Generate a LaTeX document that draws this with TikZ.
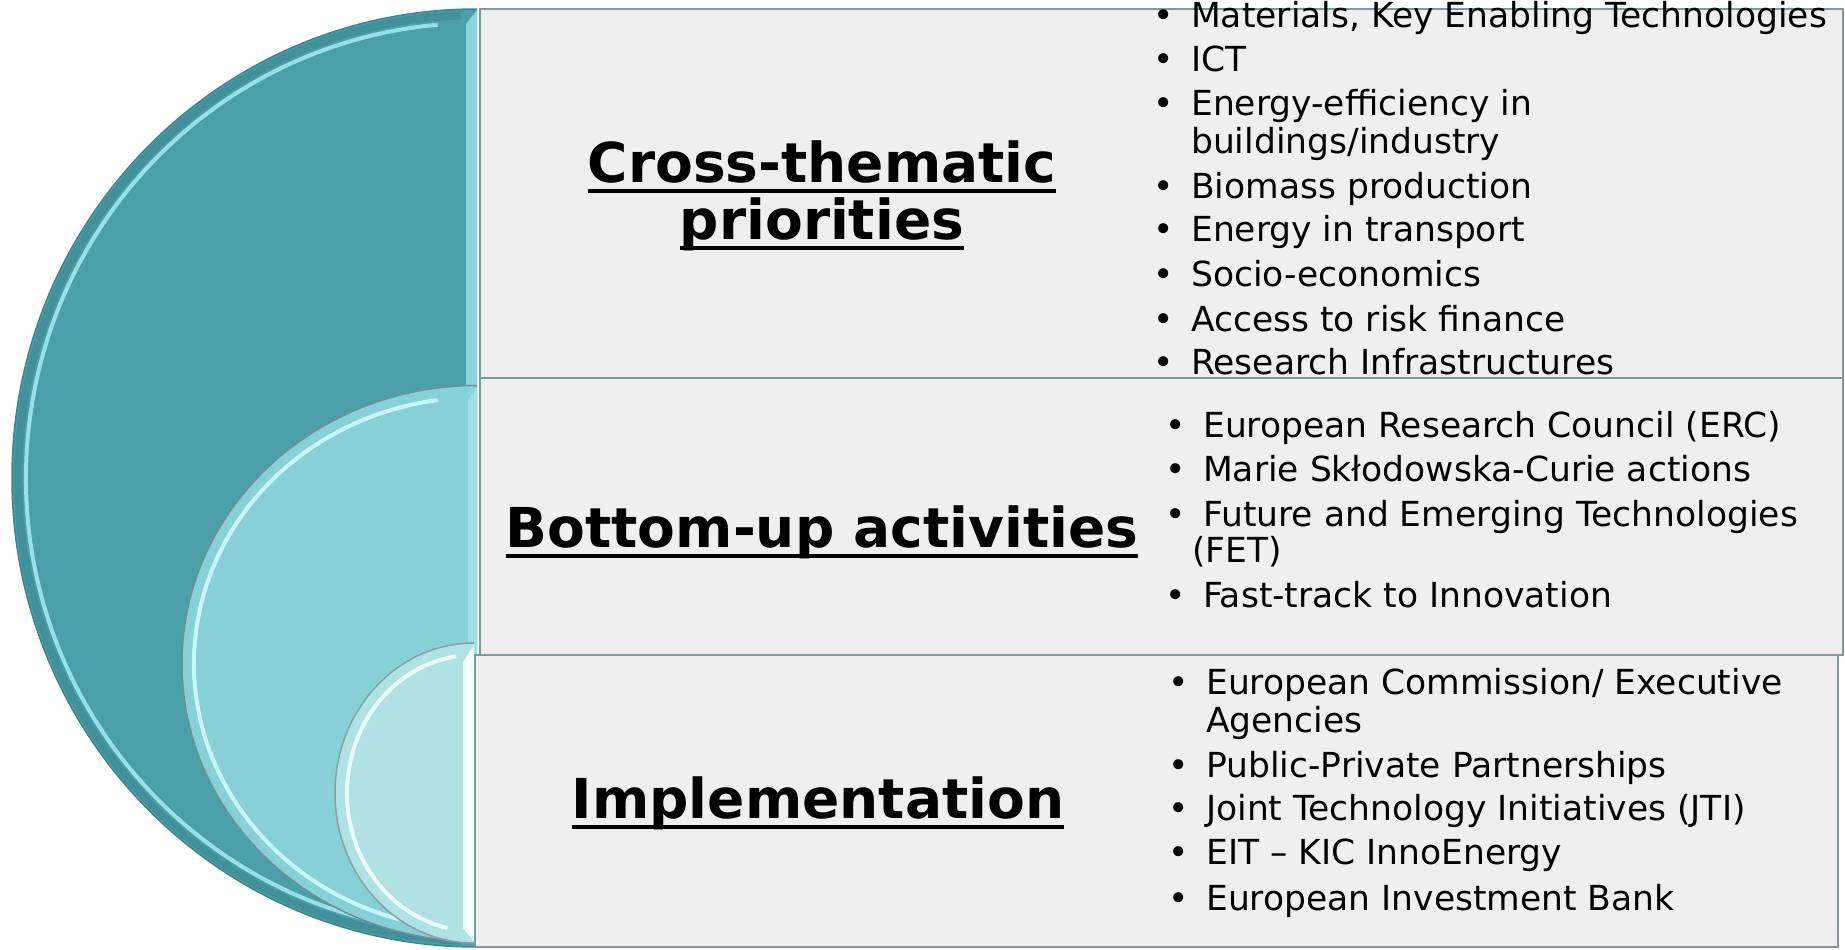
\documentclass[tikz,border=0pt]{standalone}
\usepackage{fontspec}
\setmainfont{DejaVu Sans}
\definecolor{bigF}{HTML}{4A9FA9}
\definecolor{bigD}{HTML}{3A868F}
\definecolor{bigH}{HTML}{A6ECF2}
\definecolor{midF}{HTML}{87D0D8}
\definecolor{midD}{HTML}{6E8F93}
\definecolor{midH}{HTML}{D2FAFE}
\definecolor{smlF}{HTML}{B0E1E5}
\definecolor{smlD}{HTML}{8A9FA1}
\definecolor{smlH}{HTML}{F2FFFF}
\definecolor{panelF}{HTML}{EFEFEF}
\definecolor{panelB}{HTML}{7F9A9E}
\newcommand\ulx[1]{\leavevmode\setbox0=\hbox{#1}\rlap{\copy0}\rule[-11pt]{\wd0}{4.5pt}}
\begin{document}
\begin{tikzpicture}[x=1pt,y=-1pt,
  panel/.style={draw=panelB, fill=panelF, line width=1.3pt, inner sep=0pt, outer sep=0pt, anchor=north west},
  ttl/.style={anchor=base, inner sep=0pt, font=\fontsize{55}{58}\bfseries\selectfont},
  itm/.style={anchor=base west, inner sep=0pt, font=\fontsize{34.5}{37}\selectfont}]
\useasboundingbox (0,0) rectangle (1845,950);
% big half ellipse
\fill[bigF] (477,947) arc[start angle=90,end angle=270,x radius=465,y radius=469] -- cycle;
\draw[bigD!60!bigF, line width=8pt] ([shift={(92:459 and 463)}]477,478) arc[start angle=92,end angle=268,x radius=459,y radius=463];
\draw[bigH, line width=4pt, opacity=.85] ([shift={(97:451 and 455)}]477,478) arc[start angle=97,end angle=265,x radius=451,y radius=455];
\fill[bigH!70!bigF] (466,24) -- (477,10) -- (477,385) -- (466,385) -- cycle;
\draw[bigD, line width=1.5pt] (477,947) arc[start angle=90,end angle=270,x radius=465,y radius=469];
% middle half ellipse
\fill[midF] (477,941.5) arc[start angle=90,end angle=270,x radius=295,y radius=278] -- cycle;
\draw[midH, line width=4pt, opacity=.9] ([shift={(100:283 and 266)}]477,663.5) arc[start angle=100,end angle=262,x radius=283,y radius=266];
\fill[midH!30!midF] (468,400) -- (477,387) -- (477,935) -- (468,925) -- cycle;
\draw[midD, line width=1.5pt] (477,941.5) arc[start angle=90,end angle=270,x radius=295,y radius=278];
% small half ellipse
\fill[smlF] (474,943) arc[start angle=90,end angle=270,x radius=139,y radius=150] -- cycle;
\draw[smlH, line width=4pt, opacity=.9] ([shift={(102:127 and 138)}]474,793) arc[start angle=102,end angle=262,x radius=127,y radius=138];
\fill[smlH] (463,662) -- (474,645) -- (474,941) -- (463,928) -- cycle;
\draw[smlD, line width=1.5pt] (474,943) arc[start angle=90,end angle=270,x radius=139,y radius=150];
% panels
\node[panel, minimum width=1363pt, minimum height=369pt] (p1) at (480,9) {};
\node[panel, minimum width=1363pt, minimum height=277pt] (p2) at (480,378) {};
\node[panel, minimum width=1363pt, minimum height=292pt] (p3) at (475,655) {};
% titles
\node[ttl] (t1a) at (822,182) {\ulx{Cross-thematic}};
\node[ttl] (t1b) at (822,239) {\ulx{priorities}};
\node[ttl] (t2) at (822,547) {\ulx{Bottom-up activities}};
\node[ttl] (t3) at (818,818) {\ulx{Implementation}};
% top list
\node[itm] (a1) at (1153,28) {\makebox[38pt][l]{•}Materials, Key Enabling Technologies};
\node[itm] (a2) at (1153,72) {\makebox[38pt][l]{•}ICT};
\node[itm] (a3) at (1153,115) {\makebox[38pt][l]{•}Energy-efficiency in};
\node[itm] (a3b) at (1191,153) {buildings/industry};
\node[itm] (a4) at (1153,198) {\makebox[38pt][l]{•}Biomass production};
\node[itm] (a5) at (1153,241) {\makebox[38pt][l]{•}Energy in transport};
\node[itm] (a6) at (1153,286) {\makebox[38pt][l]{•}Socio-economics};
\node[itm] (a7) at (1153,331) {\makebox[38pt][l]{•}Access to risk finance};
\node[itm] (a8) at (1153,374) {\makebox[38pt][l]{•}Research Infrastructures};
% middle list
\node[itm] (b1) at (1165,437) {\makebox[38pt][l]{•}European Research Council (ERC)};
\node[itm] (b2) at (1165,481) {\makebox[38pt][l]{•}Marie Skłodowska-Curie actions};
\node[itm] (b3) at (1165,526) {\makebox[38pt][l]{•}Future and Emerging Technologies};
\node[itm] (b3b) at (1192,562) {(FET)};
\node[itm] (b4) at (1165,607) {\makebox[38pt][l]{•}Fast-track to Innovation};
% bottom list
\node[itm] (c1) at (1168,694) {\makebox[38pt][l]{•}European Commission/ Executive};
\node[itm] (c1b) at (1206,732) {Agencies};
\node[itm] (c2) at (1168,777) {\makebox[38pt][l]{•}Public-Private Partnerships};
\node[itm] (c3) at (1168,820) {\makebox[38pt][l]{•}Joint Technology Initiatives (JTI)};
\node[itm] (c4) at (1168,864) {\makebox[38pt][l]{•}EIT – KIC InnoEnergy};
\node[itm] (c5) at (1168,910) {\makebox[38pt][l]{•}European Investment Bank};
\end{tikzpicture}
\end{document}
